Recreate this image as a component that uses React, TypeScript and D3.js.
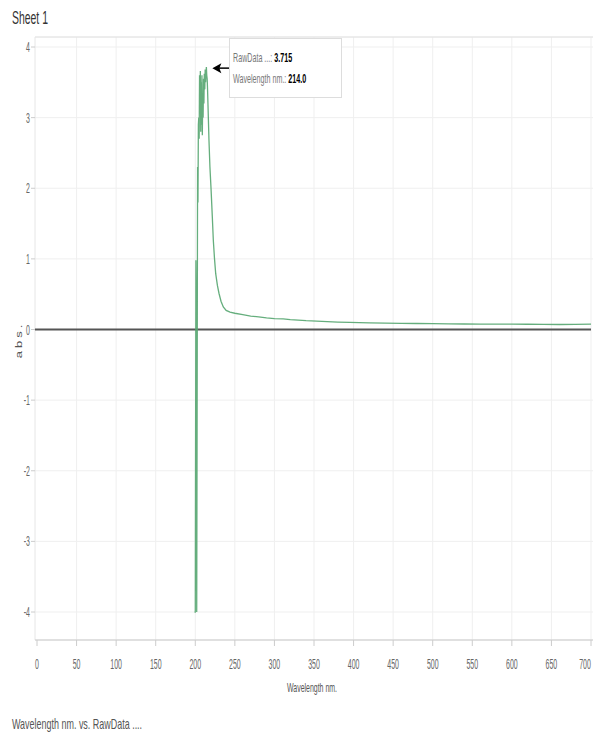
import React from "react";
import * as d3 from "d3";

const wavelengths: number[] = [
  199.0, 200.0, 200.8, 201.3, 201.8, 202.4, 202.9, 203.4, 203.9, 204.4, 204.9, 205.4, 205.9, 206.4,
  206.9, 207.4, 207.9, 208.4, 208.9, 209.4, 209.9, 210.4, 210.9, 211.4, 212.0, 212.5, 213.0, 213.5,
  214.0, 214.5, 215.0, 215.5, 216.0, 216.5, 217.3, 218.5, 220.0, 221.5, 222.8, 224.3, 225.8, 228.0,
  230.0, 232.5, 235.4, 239.0, 243.9, 250, 260, 270, 280, 290, 300, 311, 320, 340, 360, 380, 395,
  420, 440, 460, 480, 500, 520, 540, 560, 580, 600, 620, 640, 660, 680, 700,
];
const rawData: number[] = [
  -4.0, -4.0, 0.98, 0.15, -4.0, -0.7, 2.3, 1.8, 2.9, 3.0, 2.7, 3.6, 3.1, 3.66,
  2.8, 3.5, 2.9, 3.6, 2.75, 3.3, 3.0, 3.55, 3.2, 3.62, 3.4, 3.68, 3.5, 3.6,
  3.715, 3.6, 3.55, 3.4, 3.2, 3.0, 2.68, 2.3, 1.97, 1.6, 1.26, 1.0, 0.79, 0.62,
  0.51, 0.4, 0.32, 0.27, 0.245, 0.23, 0.21, 0.19, 0.18, 0.165, 0.155, 0.15, 0.14, 0.125, 0.115, 0.105, 0.1,
  0.095, 0.09, 0.088, 0.085, 0.082, 0.08, 0.078, 0.077, 0.076, 0.075, 0.074, 0.072, 0.071, 0.072, 0.075,
];
const xTicks: number[] = [0, 50, 100, 150, 200, 250, 300, 350, 400, 450, 500, 550, 600, 650, 700];
const yTicks: number[] = [-4, -3, -2, -1, 0, 1, 2, 3, 4];

const FONT = "'Liberation Sans', Arial, sans-serif";

function T(props: {
  x: number; y: number; size: number; sx: number; fill?: string; anchor?: string;
  children: React.ReactNode; weight?: string;
}) {
  return (
    <text
      transform={`translate(${props.x},${props.y}) scale(${props.sx},1)`}
      fontSize={props.size}
      fill={props.fill || "#666"}
      textAnchor={props.anchor || "start"}
      fontWeight={props.weight}
    >
      {props.children}
    </text>
  );
}

export default function App() {
  const W = 597;
  const H = 734;
  const plotL = 35, plotR = 593, plotT = 37, plotB = 640;
  const x = d3.scaleLinear().domain([0, 700]).range([37, 591]);
  const y = d3.scaleLinear().domain([-4, 4]).range([612, 47]);
  const pts = wavelengths.map((w, i) => [w, rawData[i]] as [number, number]);
  const line = d3.line<[number, number]>().x((d) => x(d[0])).y((d) => y(d[1]));
  const peakX = x(214.0);
  const peakY = y(3.715);

  return (
    <svg width={W} height={H} style={{ position: "absolute", left: 0, top: 0, background: "#fff" }}
      fontFamily={FONT}>
      <T x={12} y={24} size={18} sx={0.58} fill="#333">Sheet 1</T>
      {/* grid */}
      {xTicks.slice(1).map((t) => (
        <line key={"gx" + t} x1={x(t)} x2={x(t)} y1={plotT} y2={plotB} stroke="#efefef" strokeWidth={1} />
      ))}
      {yTicks.filter((t) => t !== 0).map((t) => (
        <line key={"gy" + t} x1={plotL} x2={plotR} y1={y(t)} y2={y(t)} stroke="#efefef" strokeWidth={1} />
      ))}
      <line x1={plotL} x2={plotR} y1={plotT} y2={plotT} stroke="#e6e6e6" />
      <line x1={plotL} x2={plotL} y1={plotT} y2={plotB} stroke="#e6e6e6" />
      <line x1={plotL} x2={plotR} y1={plotB} y2={plotB} stroke="#d6d6d6" strokeWidth={1.5} />
      {/* y ticks */}
      {yTicks.map((t) => (
        <g key={"yt" + t}>
          <line x1={31} x2={35} y1={y(t)} y2={y(t)} stroke="#ccc" />
          <T x={30} y={y(t) + 5} size={14} sx={0.5} anchor="end">{t}</T>
        </g>
      ))}
      {/* x ticks */}
      {xTicks.map((t) => (
        <g key={"xt" + t}>
          <line x1={x(t)} x2={x(t)} y1={plotB} y2={plotB + 6} stroke="#ccc" />
          <T x={t === 700 ? x(t) - 6 : x(t)} y={669} size={14} sx={0.5} anchor="middle">{t}</T>
        </g>
      ))}
      <T x={312} y={692} size={12} sx={0.58} fill="#555" anchor="middle">Wavelength nm.</T>
      <text transform={`translate(22,${340}) rotate(-90) scale(1,0.7)`} fontSize={13} fill="#555"
        textAnchor="middle" letterSpacing={3}>abs.</text>
      {/* zero line */}
      <line x1={plotL} x2={plotR - 2} y1={y(0)} y2={y(0)} stroke="#555" strokeWidth={2} />
      {/* data */}
      <path d={line(pts) || ""} fill="none" stroke="#54a56f" strokeWidth={1.3} strokeOpacity={0.9} />
      {/* tooltip */}
      <rect x={229.5} y={38.5} width={112} height={59} fill="#fff" stroke="#ddd" />
      <line x1={plotL} x2={plotR} y1={plotT} y2={plotT} stroke="#e6e6e6" />
      <T x={233} y={62} size={13} sx={0.55} fill="#777">RawData ...: <tspan fill="#000" fontWeight="bold">{d3.format(".3f")(3.715)}</tspan></T>
      <T x={233} y={83} size={13} sx={0.55} fill="#777">Wavelength nm.: <tspan fill="#000" fontWeight="bold">{d3.format(".1f")(214.0)}</tspan></T>
      <line x1={229} x2={peakX + 9} y1={peakY + 1} y2={peakY + 1} stroke="#000" strokeWidth={1.5} />
      <path d={`M${peakX + 6},${peakY + 1} l9,-5 l-2,5 l2,5 z`} fill="#000" />
      <T x={12} y={729} size={14} sx={0.64} fill="#555">Wavelength nm. vs. RawData ....</T>
    </svg>
  );
}
